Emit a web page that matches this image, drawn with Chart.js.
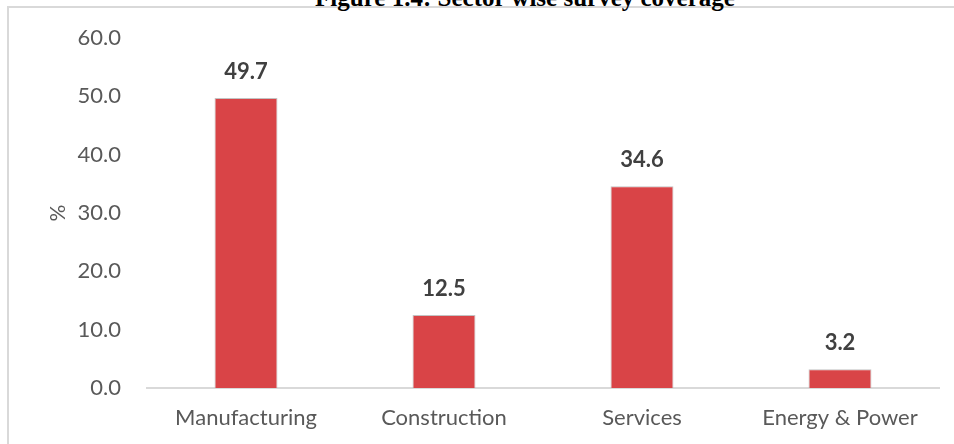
<!DOCTYPE html>
<html>
<head>
<meta charset="utf-8">
<script src="https://cdn.jsdelivr.net/npm/chart.js@4.4.1/dist/chart.umd.min.js"></script>
<style>
  body { margin: 0; background: #fff; overflow: hidden; }
  #wrap { position: relative; width: 954px; height: 444px; }
  #frame { position: absolute; left: 7px; top: 6px; width: 960px; height: 460px; border: 2px solid #d9d9d9; box-sizing: border-box; }
  #title { position: absolute; left: 0; top: -16px; width: 1050px; text-align: center; font: bold 25px 'Liberation Serif', 'Times New Roman', serif; color: #000; }
  canvas { position: absolute; left: 0; top: 0; }
</style>
</head>
<body>
<div id="wrap">
  <div id="frame"></div>
  <div id="title">Figure 1.4: Sector wise survey coverage</div>
  <canvas id="sectorChart" width="954" height="444"></canvas>
</div>
<script>
// Sector wise survey coverage (%)
const sectors = ['Manufacturing', 'Construction', 'Services', 'Energy & Power'];
const coverage = [49.7, 12.5, 34.6, 3.2];
const yTicks = [0, 10, 20, 30, 40, 50, 60];

const barColor = '#d94447';
const labelFont = "'Lato', 'Open Sans', sans-serif";

// draws the bold value above each bar
const valueLabels = {
  id: 'valueLabels',
  afterDatasetsDraw(chart) {
    const ctx = chart.ctx;
    const meta = chart.getDatasetMeta(0);
    ctx.save();
    ctx.font = 'bold 22px ' + labelFont;
    ctx.fillStyle = '#404040';
    ctx.textAlign = 'center';
    ctx.textBaseline = 'middle';
    meta.data.forEach((bar, i) => {
      ctx.fillText(coverage[i].toFixed(1), bar.x, bar.y - 26);
    });
    ctx.restore();
  },
};

new Chart(document.getElementById('sectorChart'), {
  type: 'bar',
  data: {
    labels: sectors,
    datasets: [
      {
        data: coverage,
        backgroundColor: barColor,
        borderColor: 'rgba(170,170,170,0.7)',
        borderWidth: 1,
        borderSkipped: 'bottom',
        categoryPercentage: 1.0,
        barPercentage: 0.318,
      },
    ],
  },
  options: {
    responsive: false,
    animation: false,
    layout: { padding: { left: 40, right: 15, top: 38, bottom: 0 } },
    plugins: {
      legend: { display: false },
      tooltip: { enabled: false },
    },
    scales: {
      x: {
        grid: { display: false },
        border: { color: '#d9d9d9', width: 2 },
        ticks: { color: '#595959', font: { family: labelFont, size: 22 }, padding: 9 },
        afterFit: (scale) => { scale.height = 56; },
      },
      y: {
        min: 0,
        max: 60,
        afterBuildTicks: (scale) => { scale.ticks = yTicks.map((v) => ({ value: v })); },
        grid: { display: false },
        border: { display: false },
        ticks: {
          color: '#595959',
          font: { family: labelFont, size: 22 },
          padding: 18,
          callback: (v) => v.toFixed(1),
        },
        title: { display: true, text: '%', color: '#595959', font: { family: labelFont, size: 21 }, padding: 6 },
        afterFit: (scale) => { scale.width = 107; },
      },
    },
  },
  plugins: [valueLabels],
});
</script>
</body>
</html>
